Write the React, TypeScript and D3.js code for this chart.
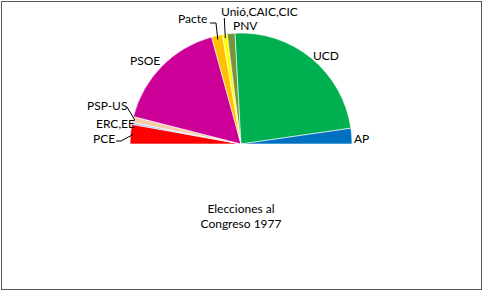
import React from "react";
import * as d3 from "d3";

// Seats won in the 1977 Congress of Deputies, ordered left to right around the hemicycle
const parties = ["PCE", "ERC,EE", "PSP-US", "PSOE", "Pacte", "Unió,CAIC,CIC", "PNV", "UCD", "AP"];
const seats = [20, 2, 6, 118, 11, 5, 8, 166, 16];
const colors = ["#FF0000", "#9DC3E6", "#F8CBAD", "#CC0099", "#FFC000", "#FFFF00", "#77933C", "#00B050", "#0070C0"];
const titleLines = ["Elecciones al", "Congreso 1977"];

const W = 483;
const H = 291;
const cx = 241;
const cy = 144;
const R = 111;

// Label anchor (text start, baseline) per party
const labelAt: Record<string, [number, number]> = {
  PCE: [93, 142.5],
  "ERC,EE": [96, 128],
  "PSP-US": [87, 110],
  PSOE: [130, 65],
  Pacte: [178, 23],
  "Unió,CAIC,CIC": [221, 16],
  PNV: [233, 30],
  UCD: [313, 60],
  AP: [354, 143],
};

export default function App() {
  const data = parties.map((p, i) => ({ party: p, seats: seats[i], color: colors[i] }));
  const pie = d3
    .pie<(typeof data)[number]>()
    .value((d) => d.seats)
    .sort(null)
    .startAngle(-Math.PI / 2)
    .endAngle(Math.PI / 2);
  const arcs = pie(data);
  const arc = d3.arc<d3.PieArcDatum<(typeof data)[number]>>().innerRadius(0).outerRadius(R);

  const onArc = (a: d3.PieArcDatum<any>, r: number): [number, number] => {
    const m = (a.startAngle + a.endAngle) / 2;
    return [cx + r * Math.sin(m), cy - r * Math.cos(m)];
  };

  const byName = (n: string) => arcs.find((a) => a.data.party === n)!;
  const line = d3.line();

  // Leader lines for the thin slices
  const leaders: [number, number][][] = [];
  {
    const p = onArc(byName("Pacte"), R - 4);
    leaders.push([[210, 23], [216, 23], p]);
    const u = onArc(byName("Unió,CAIC,CIC"), R - 4);
    leaders.push([[u[0] - 1, 18], u]);
    const s = onArc(byName("PSP-US"), R - 2);
    leaders.push([[127, 107], s]);
    const c = onArc(byName("PCE"), R - 3);
    leaders.push([[116, 141], [121, 141], c]);
  }

  const font = "Lato, 'Open Sans', sans-serif";

  return (
    <div style={{ position: "fixed", left: 0, top: 0 }}>
      <svg width={W} height={H} style={{ display: "block" }}>
        <rect x={0} y={0} width={W} height={H} fill="#fff" />
        <rect x={1.5} y={1.5} width={480} height={288} fill="none" stroke="#595959" strokeWidth={1} />
        <g transform={`translate(${cx},${cy})`}>
          {arcs.map((a) => (
            <path key={a.data.party} d={arc(a) ?? ""} fill={a.data.color} stroke="#fff" strokeWidth={0.6} />
          ))}
        </g>
        {leaders.map((pts, i) => (
          <path key={i} d={line(pts) ?? ""} fill="none" stroke="#000" strokeWidth={1} />
        ))}
        {parties.map((p) => (
          <text key={p} x={labelAt[p][0]} y={labelAt[p][1]} fontFamily={font} fontSize={12} fill="#000">
            {p}
          </text>
        ))}
        {titleLines.map((t, i) => (
          <text key={t} x={241} y={213 + i * 15} textAnchor="middle" fontFamily={font} fontSize={12} fill="#000">
            {t}
          </text>
        ))}
      </svg>
    </div>
  );
}
